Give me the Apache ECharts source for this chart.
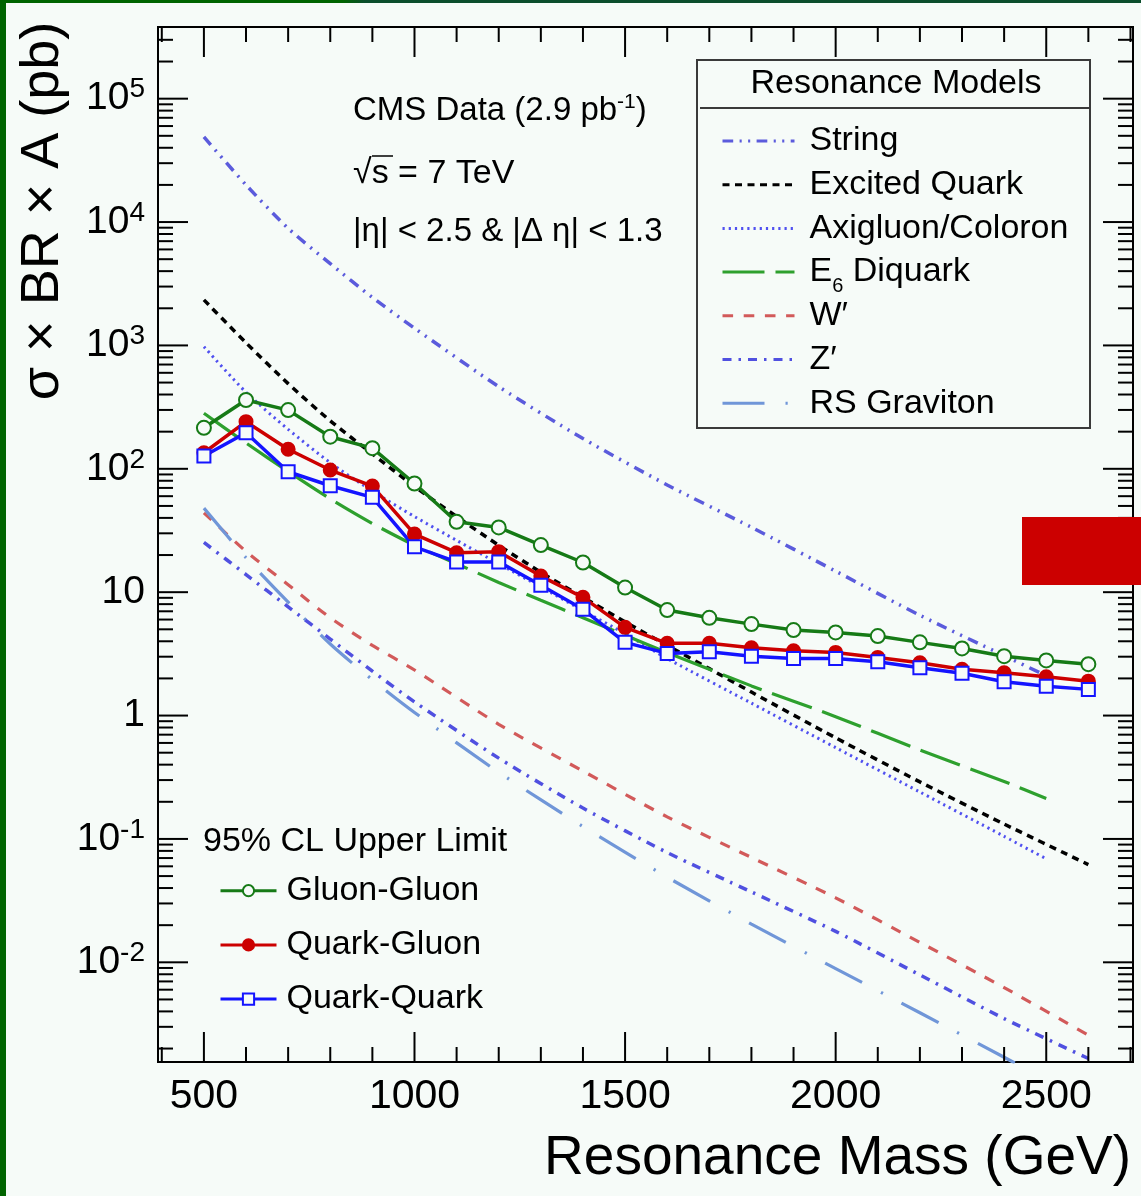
<!DOCTYPE html>
<html>
<head>
<meta charset="utf-8">
<title>Resonance Models</title>
<script src="https://cdn.jsdelivr.net/npm/echarts@6/dist/echarts.min.js"></script>
<style>
    html, body { margin: 0; padding: 0; background: #f6fbf8; }
    #main { width: 1141px; height: 1196px; }
</style>
</head>
<body>
<div id="main"></div>
<script>
    var FONT = '"Liberation Sans", Arial, Helvetica, sans-serif';
    var BG = '#f6fbf8';

    // axis ranges
    var X_MIN = 391, X_MAX = 2706;
    var Y_MIN = 0.001556, Y_MAX = 381000;

    // 95% CL upper limits (pb)
    var massPts = [500, 600, 700, 800, 900, 1000, 1100, 1200, 1300, 1400, 1500,
        1600, 1700, 1800, 1900, 2000, 2100, 2200, 2300, 2400, 2500, 2600];
    var gluonGluon = [215, 361, 299, 182, 147, 76, 37.2, 33.5, 24.1, 17.4, 10.9,
        7.16, 6.2, 5.51, 4.93, 4.72, 4.41, 3.92, 3.5, 3.03, 2.8, 2.61];
    var quarkGluon = [135, 241, 144, 97.7, 72.4, 29.6, 20.9, 21.3, 13.5, 9.08, 5.19,
        3.85, 3.85, 3.54, 3.35, 3.25, 2.96, 2.68, 2.37, 2.22, 2.06, 1.9];
    var quarkQuark = [127, 196, 94.6, 72.9, 58.7, 23.3, 17.6, 17.6, 11.4, 7.26, 3.92,
        3.19, 3.29, 3.03, 2.9, 2.9, 2.73, 2.44, 2.2, 1.88, 1.73, 1.63];

    // model cross sections (pb)
    var stringMass = [500, 600, 700, 800, 900, 1000, 1200, 1400, 1600, 1800, 2000, 2200, 2400, 2500];
    var stringXs = [49000, 20000, 8900, 4600, 2450, 1380, 463, 176, 74, 33.6, 14.8, 6.5, 3.06, 2.1];
    var eqMass = [500, 600, 700, 800, 900, 1000, 1100, 1200, 1300, 1400, 1500, 1600, 1700, 1800, 2000, 2200, 2400, 2600];
    var eqXs = [2340, 1050, 490, 245, 132, 72, 41, 24, 14.5, 9.1, 5.75, 3.7, 2.4, 1.55, 0.66, 0.29, 0.132, 0.062];
    var axiMass = [500, 600, 700, 800, 900, 1000, 1100, 1200, 1300, 1400, 1500, 1600, 1800, 2000, 2200, 2400, 2500];
    var axiXs = [977, 417, 209, 112, 66, 41, 26.3, 17, 11, 7.1, 4.6, 2.9, 1.26, 0.55, 0.24, 0.105, 0.069];
    var e6Mass = [500, 600, 700, 800, 900, 1000, 1100, 1200, 1300, 1400, 1500, 1600, 1800, 2000, 2200, 2400, 2500];
    var e6Xs = [282, 162, 95, 57, 36, 24, 17, 12, 8.6, 6.2, 4.47, 3.24, 1.74, 0.98, 0.525, 0.292, 0.213];
    var wpMass = [500, 600, 700, 800, 900, 1000, 1200, 1400, 1600, 1800, 2000, 2200, 2400, 2600];
    var wpXs = [44, 21.4, 11.5, 6.2, 3.7, 2.34, 0.85, 0.355, 0.151, 0.0708, 0.0333, 0.0145, 0.00624, 0.00257];
    var zpMass = [500, 600, 700, 800, 900, 1000, 1200, 1400, 1600, 1800, 2000, 2200, 2400, 2600];
    var zpXs = [25.3, 13.9, 7.6, 4.17, 2.29, 1.29, 0.452, 0.178, 0.0776, 0.0372, 0.0178, 0.0079, 0.0035, 0.00166];
    var rsMass = [500, 600, 700, 800, 900, 1000, 1200, 1400, 1600, 1800, 2000, 2200, 2400, 2500];
    var rsXs = [48, 19, 8.3, 3.8, 1.95, 1.06, 0.347, 0.126, 0.049, 0.0204, 0.0089, 0.0039, 0.0017, 0.00112];

    function pairs(xs, ys) {
        return xs.map(function (x, i) { return [x, ys[i]]; });
    }

    // ROOT style frame ticks, pointing inward on all four sides
    var frameTicks = [];
    for (var m = 400; m <= 2700; m += 100) {
        var len = (m % 500 === 0) ? 30 : 15;
        frameTicks.push([m, Y_MIN, 0, -len]);
        frameTicks.push([m, Y_MAX, 0, len]);
    }
    for (var e = -3; e <= 5; e++) {
        for (var k = 1; k <= 9; k++) {
            var v = k * Math.pow(10, e);
            if (v < Y_MIN || v > Y_MAX) continue;
            var l = (k === 1) ? 30 : 15;
            frameTicks.push([X_MIN, v, l, 0]);
            frameTicks.push([X_MAX, v, -l, 0]);
        }
    }

    function modelLine(name, xs, ys, color, width, dash) {
        return {
            name: name,
            type: 'line',
            data: pairs(xs, ys),
            symbol: 'circle',
            showSymbol: false,
            smooth: 0.25,
            silent: true,
            z: 2,
            itemStyle: {color: color, opacity: 0},
            lineStyle: {color: color, width: width, type: dash}
        };
    }

    function limitLine(name, ys, color, symbol, size, fill) {
        return {
            name: name,
            type: 'line',
            data: pairs(massPts, ys),
            symbol: symbol,
            symbolSize: size,
            showAllSymbol: true,
            silent: true,
            z: 5,
            itemStyle: {color: fill, borderColor: color, borderWidth: 2},
            lineStyle: {color: color, width: 3.5}
        };
    }

    var GG = '#167a16', QG = '#cc0000', QQ = '#1414ff';

    var myChart = echarts.init(document.getElementById('main'));
    myChart.setOption({
        animation: false,
        backgroundColor: BG,
        textStyle: {fontFamily: FONT},
        grid: {
            left: 158, right: 8, top: 27, bottom: 134,
            show: true, borderColor: '#000', borderWidth: 2, backgroundColor: 'transparent'
        },
        xAxis: {
            type: 'value',
            min: X_MIN,
            max: X_MAX,
            splitLine: {show: false},
            axisLine: {show: false},
            axisTick: {show: false},
            axisLabel: {
                margin: 14,
                fontSize: 41,
                color: '#000',
                fontFamily: FONT,
                showMinLabel: false,
                showMaxLabel: false,
                formatter: function (v) {
                    return (v % 500 === 0) ? String(v) : '';
                }
            }
        },
        yAxis: {
            type: 'log',
            logBase: 10,
            min: Y_MIN,
            max: Y_MAX,
            splitLine: {show: false},
            axisLine: {show: false},
            axisTick: {show: false},
            axisLabel: {
                margin: 13,
                color: '#000',
                showMinLabel: false,
                showMaxLabel: false,
                formatter: function (v) {
                    var ex = Math.log10(v), r = Math.round(ex);
                    if (Math.abs(ex - r) > 1e-6) return '';
                    if (r === 0) return '{b|1}';
                    if (r === 1) return '{b|10}';
                    return '{b|10}{s|' + r + '}';
                },
                rich: {
                    b: {fontSize: 39, lineHeight: 46, fontFamily: FONT, color: '#000'},
                    s: {fontSize: 28, lineHeight: 28, verticalAlign: 'top', fontFamily: FONT, color: '#000'}
                }
            }
        },
        legend: [
            {
                orient: 'vertical',
                left: 721,
                top: 117,
                padding: 0,
                itemWidth: 72,
                itemHeight: 14,
                itemGap: -4.3,
                selectedMode: false,
                lineStyle: {width: 3},
                data: ['String', 'Excited Quark', 'Axigluon/Coloron', 'E6 Diquark', 'W\u2032', 'Z\u2032', 'RS Graviton']
                    .map(function (n) { return {name: n, itemStyle: {opacity: 0}}; }),
                formatter: function (name) {
                    if (name === 'E6 Diquark') return '{n|E}{sub|6}{n| Diquark}';
                    return '{n|' + name + '}';
                },
                textStyle: {
                    color: '#000',
                    fontSize: 34,
                    fontFamily: FONT,
                    lineHeight: 48,
                    padding: [0, 0, 0, 10],
                    rich: {
                        n: {fontSize: 34, lineHeight: 48, fontFamily: FONT, color: '#000'},
                        sub: {fontSize: 20, lineHeight: 20, padding: [28, 0, 0, 0], fontFamily: FONT, color: '#000'}
                    }
                }
            },
            {
                orient: 'vertical',
                left: 219,
                top: 872.7,
                padding: 0,
                itemWidth: 56,
                itemHeight: 14,
                itemGap: 18.2,
                selectedMode: false,
                lineStyle: {width: 3},
                data: ['Gluon-Gluon', 'Quark-Gluon', 'Quark-Quark'],
                textStyle: {
                    color: '#000',
                    fontSize: 34,
                    fontFamily: FONT,
                    lineHeight: 36,
                    padding: [0, 0, 0, 5]
                }
            }
        ],
        graphic: [
            // page border
            {type: 'rect', shape: {x: 0, y: 0, width: 6, height: 1196}, style: {fill: '#006400'}, z: 50},
            {
                type: 'rect', shape: {x: 0, y: 0, width: 1141, height: 3}, z: 50,
                style: {
                    fill: new echarts.graphic.LinearGradient(0, 0, 1, 0, [
                        {offset: 0, color: '#006400'},
                        {offset: 0.3, color: '#006400'},
                        {offset: 0.32, color: '#0b4e2c'},
                        {offset: 1, color: '#0b4e2c'}
                    ])
                }
            },
            // legend box
            {
                type: 'rect', z: 3,
                shape: {x: 697, y: 60, width: 393, height: 368},
                style: {fill: BG, stroke: '#3a3a3a', lineWidth: 2}
            },
            {
                type: 'line', z: 3,
                shape: {x1: 700, y1: 108, x2: 1090, y2: 108},
                style: {stroke: '#3a3a3a', lineWidth: 2}
            },
            {
                type: 'text', z: 5, x: 896, y: 84,
                style: {
                    text: 'Resonance Models', fontSize: 34, fontFamily: FONT, fill: '#000',
                    textAlign: 'center', align: 'center', textVerticalAlign: 'middle', verticalAlign: 'middle'
                }
            },
            // annotations
            {
                type: 'text', z: 5, x: 353, y: 111,
                style: {
                    text: '{a|CMS Data (2.9 pb}{s|-1}{a|)}',
                    rich: {
                        a: {fontSize: 33, lineHeight: 38, fontFamily: FONT, fill: '#000', color: '#000'},
                        s: {fontSize: 21, lineHeight: 22, verticalAlign: 'top', fontFamily: FONT, fill: '#000', color: '#000'}
                    },
                    textAlign: 'left', align: 'left', textVerticalAlign: 'middle', verticalAlign: 'middle'
                }
            },
            {
                type: 'text', z: 5, x: 353, y: 174,
                style: {
                    text: '\u221As = 7 TeV', fontSize: 34, fontFamily: FONT, fill: '#000',
                    textAlign: 'left', align: 'left', textVerticalAlign: 'middle', verticalAlign: 'middle'
                }
            },
            {
                type: 'line', z: 5,
                shape: {x1: 372, y1: 156, x2: 393, y2: 156},
                style: {stroke: '#000', lineWidth: 1.5}
            },
            {
                type: 'text', z: 5, x: 353, y: 232,
                style: {
                    text: '|\u03b7| < 2.5 & |\u0394 \u03b7| < 1.3', fontSize: 33, fontFamily: FONT, fill: '#000',
                    textAlign: 'left', align: 'left', textVerticalAlign: 'middle', verticalAlign: 'middle'
                }
            },
            {
                type: 'text', z: 5, x: 203, y: 842,
                style: {
                    text: '95% CL Upper Limit', fontSize: 34, fontFamily: FONT, fill: '#000',
                    textAlign: 'left', align: 'left', textVerticalAlign: 'middle', verticalAlign: 'middle'
                }
            },
            // axis titles
            {
                type: 'text', z: 5, x: 1131, y: 1159,
                style: {
                    text: 'Resonance Mass (GeV)', fontSize: 55, fontFamily: FONT, fill: '#000',
                    textAlign: 'right', align: 'right', textVerticalAlign: 'middle', verticalAlign: 'middle'
                }
            },
            {
                type: 'text', z: 5, x: 43, y: 211, rotation: Math.PI / 2,
                style: {
                    text: '\u03c3 \u00d7 BR \u00d7 A (pb)', fontSize: 54, fontFamily: FONT, fill: '#000',
                    textAlign: 'center', align: 'center', textVerticalAlign: 'middle', verticalAlign: 'middle'
                }
            },
            // red block on the right edge
            {type: 'rect', z: 100, shape: {x: 1022, y: 517, width: 119, height: 68}, style: {fill: '#cc0000'}}
        ],
        series: [
            modelLine('String', stringMass, stringXs, '#5b5bdc', 3.5, [10.7, 6.4, 2.1, 6.4, 2.1, 6.4]),
            modelLine('Excited Quark', eqMass, eqXs, '#000000', 3.5, [7, 5.5]),
            modelLine('Axigluon/Coloron', axiMass, axiXs, '#5050f0', 3, [2.2, 4]),
            modelLine('E6 Diquark', e6Mass, e6Xs, '#2ea02e', 3.2, [42, 11]),
            modelLine('W\u2032', wpMass, wpXs, '#d25a5a', 3.2, [10.6, 10.6]),
            modelLine('Z\u2032', zpMass, zpXs, '#5050e0', 3.5, [9, 7, 2.5, 7]),
            modelLine('RS Graviton', rsMass, rsXs, '#7096d8', 3.2, [42, 21, 2.2, 21]),
            limitLine('Gluon-Gluon', gluonGluon, GG, 'circle', 14, BG),
            limitLine('Quark-Gluon', quarkGluon, QG, 'circle', 13, QG),
            limitLine('Quark-Quark', quarkQuark, QQ, 'rect', 13, BG),
            {
                type: 'custom',
                silent: true,
                z: 10,
                data: frameTicks,
                encode: {x: 0, y: 1},
                renderItem: function (params, api) {
                    var p = api.coord([api.value(0), api.value(1)]);
                    return {
                        type: 'line',
                        shape: {x1: p[0], y1: p[1], x2: p[0] + api.value(2), y2: p[1] + api.value(3)},
                        style: {stroke: '#000', lineWidth: 2}
                    };
                }
            }
        ]
    });
</script>
</body>
</html>
